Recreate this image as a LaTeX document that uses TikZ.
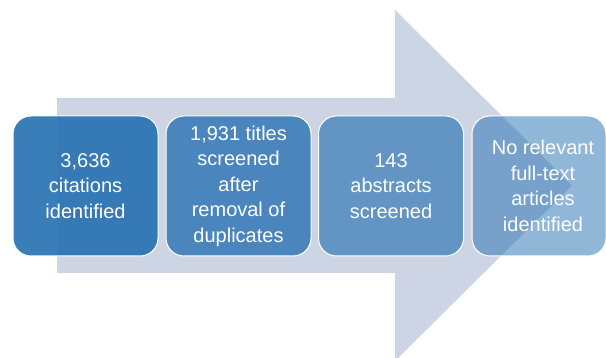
\documentclass[tikz,border=0pt]{standalone}
\usepackage{fontspec}
\setmainfont{Liberation Sans}
\definecolor{arrowfill}{RGB}{205,213,228}
\definecolor{stagefill}{RGB}{42,115,180}
\tikzset{
  stage/.style={rectangle, rounded corners=18pt, draw=white, line width=1pt,
    fill=stagefill, minimum width=145pt, minimum height=140pt, inner sep=0pt,
    text=white, align=center, font=\fontsize{20pt}{25.5pt}\selectfont},
  stagetext/.style={text=white, align=center, inner sep=0pt,
    font=\fontsize{20pt}{25.5pt}\selectfont},
  bigarrow/.style={fill=arrowfill, draw=none}
}
\begin{document}
\begin{tikzpicture}[x=1pt,y=-1pt]
\useasboundingbox (0,0) rectangle (606,358);
% background arrow
\fill[bigarrow] (57,98) -- (395,98) -- (395,10) -- (572,185.5) -- (395,361) -- (395,273) -- (57,273) -- cycle;
% stages
\node[stage, fill opacity=0.93, text opacity=1] (b1) at (85.5,186) {3,636\\citations\\identified};
\node[stage, fill opacity=0.80, text opacity=1] (b2) at (238.5,186) {1,931 titles\\screened\\after\\removal of\\duplicates};
\node[stage, fill opacity=0.65, text opacity=1] (b3) at (391,186) {143\\abstracts\\screened};
\node[stage, fill opacity=0.52, minimum width=134pt] (b4) at (539,186) {};
\node[stagetext] (t4) at (543,186) {No relevant\\full-text\\articles\\identified};
\end{tikzpicture}
\end{document}
